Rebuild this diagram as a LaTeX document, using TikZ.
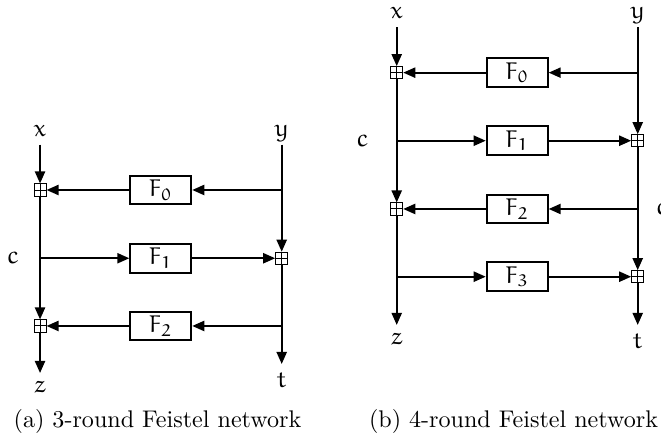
\documentclass[tikz,border=0pt]{standalone}
\usepackage{amsfonts}
\DeclareMathAlphabet{\mathEu}{U}{eur}{m}{n}
\usetikzlibrary{arrows.meta}
\tikzset{
  fnbox/.style={draw, thick, minimum width=0.89cm, minimum height=0.42cm, inner sep=0pt},
  addbox/.style={draw, thin, minimum size=5pt, inner sep=0pt,
    path picture={\draw[thin] (path picture bounding box.north) -- (path picture bounding box.south)
      (path picture bounding box.west) -- (path picture bounding box.east);}},
  wire/.style={thick, -{Triangle[length=5pt,width=4.2pt]}},
  lbl/.style={text depth=0pt}
}
\begin{document}
\begin{tikzpicture}
\useasboundingbox (0,0) rectangle (9.644,6.361);
% (a) three rounds
\node[lbl, anchor=south] (ax) at (0.584,4.25) {$\mathEu{x}$};
\node[lbl, anchor=south] (ay) at (4.110,4.25) {$\mathEu{y}$};
\node[addbox] (aa0) at (0.584,3.589) {};
\node[fnbox] (af0) at (2.346,3.589) {$\mathEu{F}_{\mathEu{0}}$};
\coordinate (ab0) at (4.110,3.589);
\coordinate (ab1) at (0.584,2.593);
\node[fnbox] (af1) at (2.346,2.593) {$\mathEu{F}_{\mathEu{1}}$};
\node[addbox] (aa1) at (4.110,2.593) {};
\node[addbox] (aa2) at (0.584,1.605) {};
\node[fnbox] (af2) at (2.346,1.605) {$\mathEu{F}_{\mathEu{2}}$};
\coordinate (ab2) at (4.110,1.605);
\node[lbl] (ac) at (0.194,2.593) {$\mathEu{c}$};
\node[lbl, anchor=north] (az) at (0.584,0.919) {$\mathEu{z}$};
\node[lbl, anchor=north] (at) at (4.110,1.050) {$\mathEu{t}$};
\draw[wire] (ax) -- (aa0);
\draw[wire] (aa0) -- (aa2);
\draw[wire] (aa2) -- (az);
\draw[wire] (ay) -- (aa1);
\draw[wire] (aa1) -- (at);
\draw[wire] (ab0) -- (af0);
\draw[wire] (af0) -- (aa0);
\draw[wire] (ab1) -- (af1);
\draw[wire] (af1) -- (aa1);
\draw[wire] (ab2) -- (af2);
\draw[wire] (af2) -- (aa2);
\node[anchor=base] (acap) at (2.298,0.12) {(a) 3-round Feistel network};
% (b) four rounds
\node[lbl, anchor=south] (bx) at (5.788,5.96) {$\mathEu{x}$};
\node[lbl, anchor=south] (by) at (9.304,5.96) {$\mathEu{y}$};
\node[addbox] (ba0) at (5.788,5.301) {};
\node[fnbox] (bf0) at (7.546,5.301) {$\mathEu{F}_{\mathEu{0}}$};
\coordinate (bb0) at (9.304,5.301);
\coordinate (bb1) at (5.788,4.308);
\node[fnbox] (bf1) at (7.546,4.308) {$\mathEu{F}_{\mathEu{1}}$};
\node[addbox] (ba1) at (9.304,4.308) {};
\node[addbox] (ba2) at (5.788,3.312) {};
\node[fnbox] (bf2) at (7.546,3.312) {$\mathEu{F}_{\mathEu{2}}$};
\coordinate (bb2) at (9.304,3.312);
\coordinate (bb3) at (5.788,2.324);
\node[fnbox] (bf3) at (7.546,2.324) {$\mathEu{F}_{\mathEu{3}}$};
\node[addbox] (ba3) at (9.304,2.324) {};
\node[lbl] (bc1) at (5.292,4.308) {$\mathEu{c}$};
\node[lbl] (bc2) at (9.666,3.312) {$\mathEu{c}$};
\node[lbl, anchor=north] (bz) at (5.788,1.620) {$\mathEu{z}$};
\node[lbl, anchor=north] (bt) at (9.304,1.620) {$\mathEu{t}$};
\draw[wire] (bx) -- (ba0);
\draw[wire] (ba0) -- (ba2);
\draw[wire] (ba2) -- (bz);
\draw[wire] (by) -- (ba1);
\draw[wire] (ba1) -- (ba3);
\draw[wire] (ba3) -- (bt);
\draw[wire] (bb0) -- (bf0);
\draw[wire] (bf0) -- (ba0);
\draw[wire] (bb1) -- (bf1);
\draw[wire] (bf1) -- (ba1);
\draw[wire] (bb2) -- (bf2);
\draw[wire] (bf2) -- (ba2);
\draw[wire] (bb3) -- (bf3);
\draw[wire] (bf3) -- (ba3);
\node[anchor=base] (bcap) at (7.492,0.12) {(b) 4-round Feistel network};
\end{tikzpicture}
\end{document}
